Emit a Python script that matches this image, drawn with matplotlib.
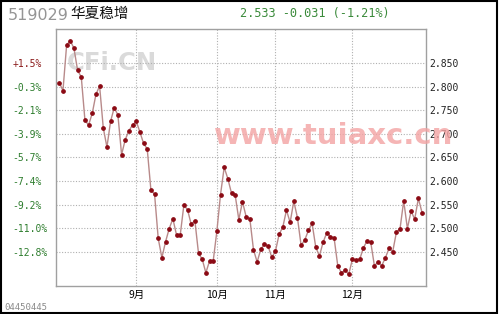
import matplotlib
matplotlib.use("Agg")
import matplotlib.pyplot as plt
from matplotlib.patches import Rectangle
from matplotlib.ticker import FixedLocator, FuncFormatter

plt.rcParams['font.family'] = ['DejaVu Sans Mono', 'Noto Sans CJK SC']

fund_code = "519029"
fund_name = "华夏稳增"
quote_text = "2.533 -0.031 (-1.21%)"
footer_id = "04450445"

nav = [2.809, 2.792, 2.889, 2.898, 2.882, 2.835, 2.821, 2.729, 2.719, 2.744,
       2.784, 2.802, 2.713, 2.672, 2.727, 2.756, 2.740, 2.656, 2.688, 2.707,
       2.719, 2.727, 2.704, 2.680, 2.668, 2.581, 2.572, 2.478, 2.437, 2.471,
       2.499, 2.520, 2.485, 2.485, 2.549, 2.539, 2.508, 2.516, 2.446, 2.434,
       2.405, 2.430, 2.430, 2.493, 2.571, 2.629, 2.605, 2.574, 2.570, 2.518,
       2.556, 2.524, 2.520, 2.454, 2.428, 2.455, 2.466, 2.461, 2.438, 2.451,
       2.487, 2.502, 2.538, 2.512, 2.557, 2.522, 2.463, 2.475, 2.495, 2.510,
       2.459, 2.441, 2.470, 2.490, 2.482, 2.479, 2.420, 2.405, 2.410, 2.402,
       2.434, 2.432, 2.434, 2.458, 2.473, 2.470, 2.420, 2.428, 2.420, 2.437,
       2.457, 2.450, 2.491, 2.499, 2.558, 2.499, 2.536, 2.519, 2.563, 2.533]

month_start_idx = [21, 43, 59, 80]
month_labels = ["9月", "10月", "11月", "12月"]
price_ticks = [2.450, 2.500, 2.550, 2.600, 2.650, 2.700, 2.750, 2.800, 2.850]

base = nav[0]
x = list(range(len(nav)))

fig = plt.figure(figsize=(4.99, 3.14), dpi=100)
fig.patch.set_facecolor('white')
ax = fig.add_axes([56/499, 1-285.5/314, (425.7-56)/499, (285.5-29)/314])
ax.set_zorder(2)
ax.patch.set_alpha(0)

ax.plot(x, nav, color='#b88a8a', lw=1.0, zorder=3)
ax.plot(x, nav, ls='none', marker='o', ms=2.4, mfc='#8b0a14', mec='#8b0a14', zorder=4)

ax.set_xlim(-0.9, 100.0)
ax.set_ylim(2.378, 2.923)

for s in ax.spines.values():
    s.set_color('#a0a0a0')
    s.set_linewidth(1.0)

ax.xaxis.set_major_locator(FixedLocator(month_start_idx))
ax.set_xticklabels(month_labels, fontsize=7.5, family=['Noto Sans CJK SC'])
ax.tick_params(axis='x', length=0, pad=3)
ax.grid(True, axis='both', color='#b0b0b0', ls=(0, (1, 1.5)), lw=0.8)

# left: percent change labels
ax.yaxis.set_major_locator(FixedLocator(price_ticks))
ax.yaxis.set_major_formatter(FuncFormatter(lambda v, p: f"{(v/base-1)*100:+.1f}%"))
ax.tick_params(axis='y', length=0, pad=31.5, labelsize=7)
for lbl, v in zip(ax.get_yticklabels(), price_ticks):
    lbl.set_horizontalalignment('left')
    lbl.set_color('#8b1a1a' if v / base - 1 > 0 else '#2e7d2e')

# right: price labels
ax2 = ax.twinx()
ax2.set_ylim(ax.get_ylim())
ax2.yaxis.set_major_locator(FixedLocator(price_ticks))
ax2.yaxis.set_major_formatter(FuncFormatter(lambda v, p: f"{v:.3f}"))
ax2.tick_params(axis='y', length=0, pad=2.5, labelsize=7, labelcolor='#222222')
for s in ax2.spines.values():
    s.set_visible(False)

# watermarks
fig.text(67/499, 1-70/314, "CFi.CN", fontsize=17.5, fontweight='bold', color='#dadada',
         family='DejaVu Sans', va='baseline', ha='left', zorder=1)
fig.text(214/499, 1-144/314, "www.tuiaxc.cn", fontsize=21, fontweight='bold',
         color='#f3a3a3', alpha=0.8, family='DejaVu Sans', va='baseline', ha='left', zorder=10)

# header
fig.text(8/499, 1-15/314, fund_code, fontsize=11.5, color='#959595', family='DejaVu Sans',
         va='center', ha='left')
fig.text(70/499, 1-14/314, fund_name, fontsize=10.5, color='#111111',
         family=['Noto Sans CJK SC'], va='center', ha='left')
fig.text(240/499, 1-14/314, quote_text, fontsize=8.6, color='#3a8a3a', va='center', ha='left')
fig.text(4/499, 1-307/314, footer_id, fontsize=6.5, color='#8a8a8a', va='center', ha='left')

fig.patches.append(Rectangle((0.5/499, 1/314), 496.5/499, 312/314, transform=fig.transFigure,
                             fill=False, edgecolor='black', lw=1.5))

fig.savefig('out.png', dpi=100)
